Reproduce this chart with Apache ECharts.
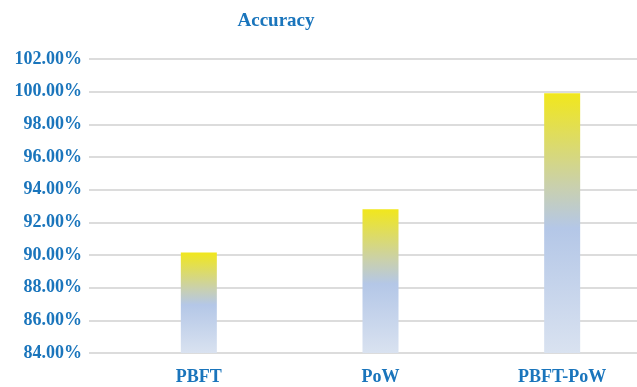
<!DOCTYPE html>
<html>
<head>
<meta charset="utf-8">
<script src="https://cdn.jsdelivr.net/npm/echarts@6/dist/echarts.min.js"></script>
<style>
  html, body { margin: 0; padding: 0; background: #fff; }
  #chart { width: 637px; height: 387px; }
</style>
</head>
<body>
<div id="chart"></div>
<script>
// Consensus methods and their measured accuracy (%)
const categories = ['PBFT', 'PoW', 'PBFT-PoW'];
const accuracy = [90.15, 92.8, 99.9];
const yMin = 84;
const yMax = 102;
const yStep = 2;

const blue = '#1a75bc';
const fontFamily = '"Liberation Serif", "Times New Roman", serif';

const barGradient = new echarts.graphic.LinearGradient(0, 1, 0, 0, [
  { offset: 0, color: '#d9e2f0' },
  { offset: 0.48, color: '#b4c7e7' },
  { offset: 0.64, color: '#c9d0ae' },
  { offset: 1, color: '#f1e71c' }
]);

const chart = echarts.init(document.getElementById('chart'), null, { renderer: 'canvas' });
chart.setOption({
  animation: false,
  title: {
    text: 'Accuracy',
    left: 271,
    textAlign: 'center',
    top: 7,
    textStyle: { color: blue, fontFamily, fontWeight: 'bold', fontSize: 19 }
  },
  grid: [
    // grid 0: value axis labels and horizontal gridlines
    { left: 89, right: 0, top: 59, bottom: 34, outerBoundsMode: 'none' },
    // grid 1: the bars (plot area runs past the right edge)
    { left: 108, width: 545, top: 59, bottom: 34, outerBoundsMode: 'none' }
  ],
  xAxis: [
    { type: 'category', gridIndex: 0, data: [''], show: false },
    {
      type: 'category', gridIndex: 1, data: categories,
      axisLine: { show: false }, axisTick: { show: false },
      axisLabel: { color: blue, fontFamily, fontWeight: 'bold', fontSize: 18, margin: 15 }
    }
  ],
  yAxis: [
    {
      type: 'value', gridIndex: 0, min: yMin, max: yMax, interval: yStep,
      axisLine: { show: false }, axisTick: { show: false },
      axisLabel: {
        color: blue, fontFamily, fontWeight: 'bold', fontSize: 18, margin: 7,
        formatter: v => v.toFixed(2) + '%'
      },
      splitLine: { lineStyle: { color: '#dcdcdc', width: 2 } }
    },
    {
      type: 'value', gridIndex: 1, min: yMin, max: yMax, interval: yStep,
      show: false, splitLine: { show: false }
    }
  ],
  series: [{
    type: 'bar',
    xAxisIndex: 1,
    yAxisIndex: 1,
    data: accuracy,
    barWidth: 36,
    itemStyle: { color: barGradient }
  }]
});
</script>
</body>
</html>
